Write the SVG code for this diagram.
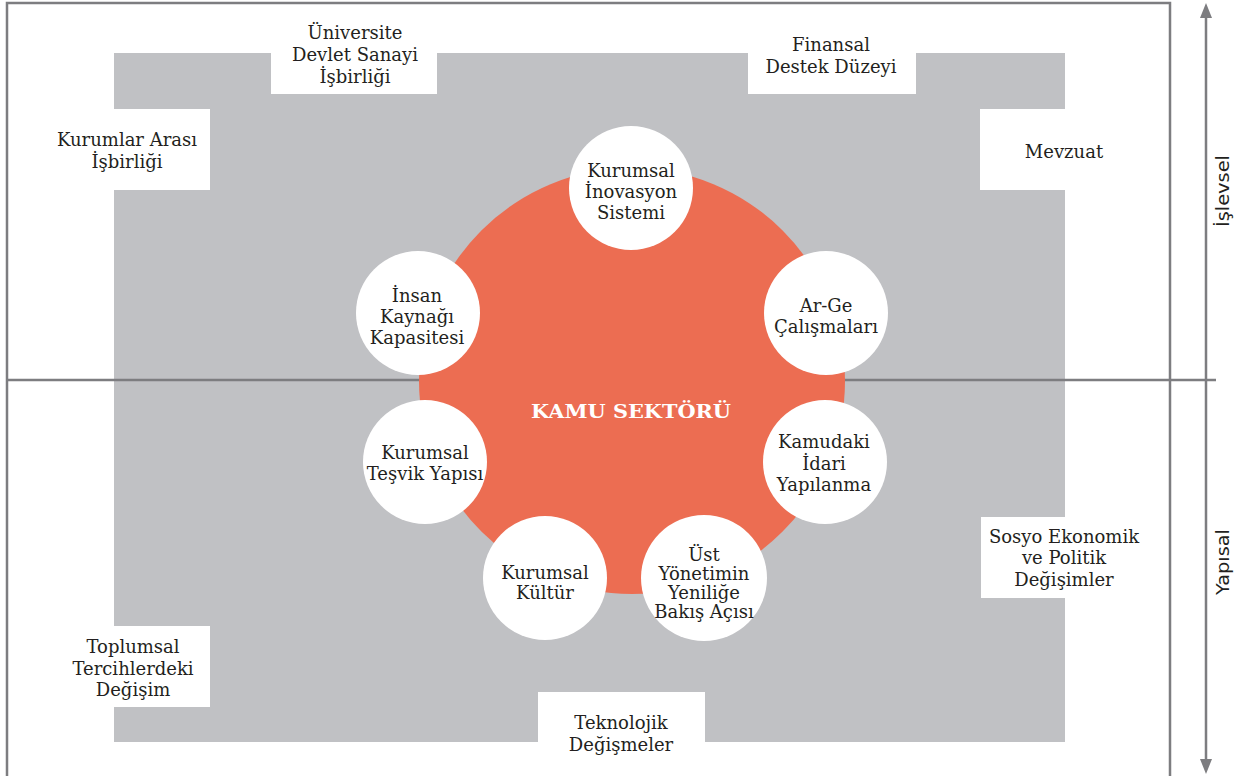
<svg xmlns="http://www.w3.org/2000/svg" width="1243" height="776" viewBox="0 0 1243 776">
<style>
.t{font-family:"DejaVu Serif","Liberation Serif",serif;font-size:18px;fill:#231f20;text-anchor:middle}
.ax{font-family:"DejaVu Sans","Liberation Sans",sans-serif;font-size:18px;fill:#231f20;text-anchor:middle}
.box{fill:#ffffff}
.node{fill:#ffffff}
.ln{stroke:#7d7d80;stroke-width:2.5;fill:none}
</style>
<rect x="0" y="0" width="1243" height="776" fill="#ffffff"/>
<g id="background">
<rect x="114" y="53" width="951" height="689" fill="#c0c1c4"/>
</g>
<g id="connectors">
<path class="ln" d="M7,776 V3 H1170 V776"/>
<line class="ln" x1="7" y1="380" x2="1216" y2="380"/>
<line class="ln" x1="1206" y1="14" x2="1206" y2="764"/>
<polygon points="1206,3 1200,18 1212,18" fill="#7d7d80"/>
<polygon points="1206,774 1200,759 1212,759" fill="#7d7d80"/>
</g>
<g id="axis-labels">
<text class="ax" transform="translate(1229,191) rotate(-90)" textLength="72" lengthAdjust="spacingAndGlyphs">İşlevsel</text>
<text class="ax" transform="translate(1229,562) rotate(-90)" textLength="66" lengthAdjust="spacingAndGlyphs">Yapısal</text>
</g>
<g id="n-universite"><rect class="box" x="271" y="20" width="166" height="74"/>
<text class="t" x="355" y="39">Üniversite</text><text class="t" x="355" y="61">Devlet Sanayi</text><text class="t" x="355" y="83">İşbirliği</text></g>
<g id="n-finansal"><rect class="box" x="748" y="20" width="168" height="74"/>
<text class="t" x="831" y="51">Finansal</text><text class="t" x="831" y="73">Destek Düzeyi</text></g>
<g id="n-kurumlar"><rect class="box" x="43" y="109" width="167" height="81"/>
<text class="t" x="127" y="146">Kurumlar Arası</text><text class="t" x="127" y="168">İşbirliği</text></g>
<g id="n-mevzuat"><rect class="box" x="980" y="109" width="160" height="81"/>
<text class="t" x="1064" y="158">Mevzuat</text></g>
<g id="n-sosyo"><rect class="box" x="981" y="517" width="164" height="81"/>
<text class="t" x="1064" y="543">Sosyo Ekonomik</text><text class="t" x="1064" y="564">ve Politik</text><text class="t" x="1064" y="586">Değişimler</text></g>
<g id="n-toplumsal"><rect class="box" x="43" y="626" width="167" height="81"/>
<text class="t" x="133" y="653">Toplumsal</text><text class="t" x="133" y="675">Tercihlerdeki</text><text class="t" x="133" y="696">Değişim</text></g>
<g id="n-teknolojik"><rect class="box" x="538" y="692" width="167" height="84"/>
<text class="t" x="621" y="729">Teknolojik</text><text class="t" x="621" y="751">Değişmeler</text></g>
<g id="n-kamu">
<circle cx="632" cy="381" r="213" fill="#ec6d52"/>
<text x="631" y="418" text-anchor="middle" font-family="DejaVu Serif,serif" font-weight="bold" font-size="19" fill="#ffffff" textLength="200" lengthAdjust="spacingAndGlyphs">KAMU SEKTÖRÜ</text>
</g>
<g id="n-inovasyon"><circle class="node" cx="631" cy="188" r="62"/>
<text class="t" x="631" y="177">Kurumsal</text><text class="t" x="631" y="198">İnovasyon</text><text class="t" x="631" y="219">Sistemi</text></g>
<g id="n-insan"><circle class="node" cx="418" cy="313" r="62"/>
<text class="t" x="417" y="302">İnsan</text><text class="t" x="417" y="323">Kaynağı</text><text class="t" x="417" y="344">Kapasitesi</text></g>
<g id="n-arge"><circle class="node" cx="826" cy="313" r="62"/>
<text class="t" x="826" y="312">Ar-Ge</text><text class="t" x="826" y="333">Çalışmaları</text></g>
<g id="n-tesvik"><circle class="node" cx="425" cy="462" r="62"/>
<text class="t" x="425" y="459">Kurumsal</text><text class="t" x="425" y="480">Teşvik Yapısı</text></g>
<g id="n-kamudaki"><circle class="node" cx="825" cy="462" r="62"/>
<text class="t" x="824" y="448">Kamudaki</text><text class="t" x="824" y="470">İdari</text><text class="t" x="824" y="491">Yapılanma</text></g>
<g id="n-kultur"><circle class="node" cx="545" cy="578" r="62"/>
<text class="t" x="545" y="579">Kurumsal</text><text class="t" x="545" y="599">Kültür</text></g>
<g id="n-ust"><circle class="node" cx="704" cy="578" r="63"/>
<text class="t" x="704" y="561">Üst</text><text class="t" x="704" y="580">Yönetimin</text><text class="t" x="704" y="599">Yeniliğe</text><text class="t" x="704" y="618">Bakış Açısı</text></g>
</svg>
